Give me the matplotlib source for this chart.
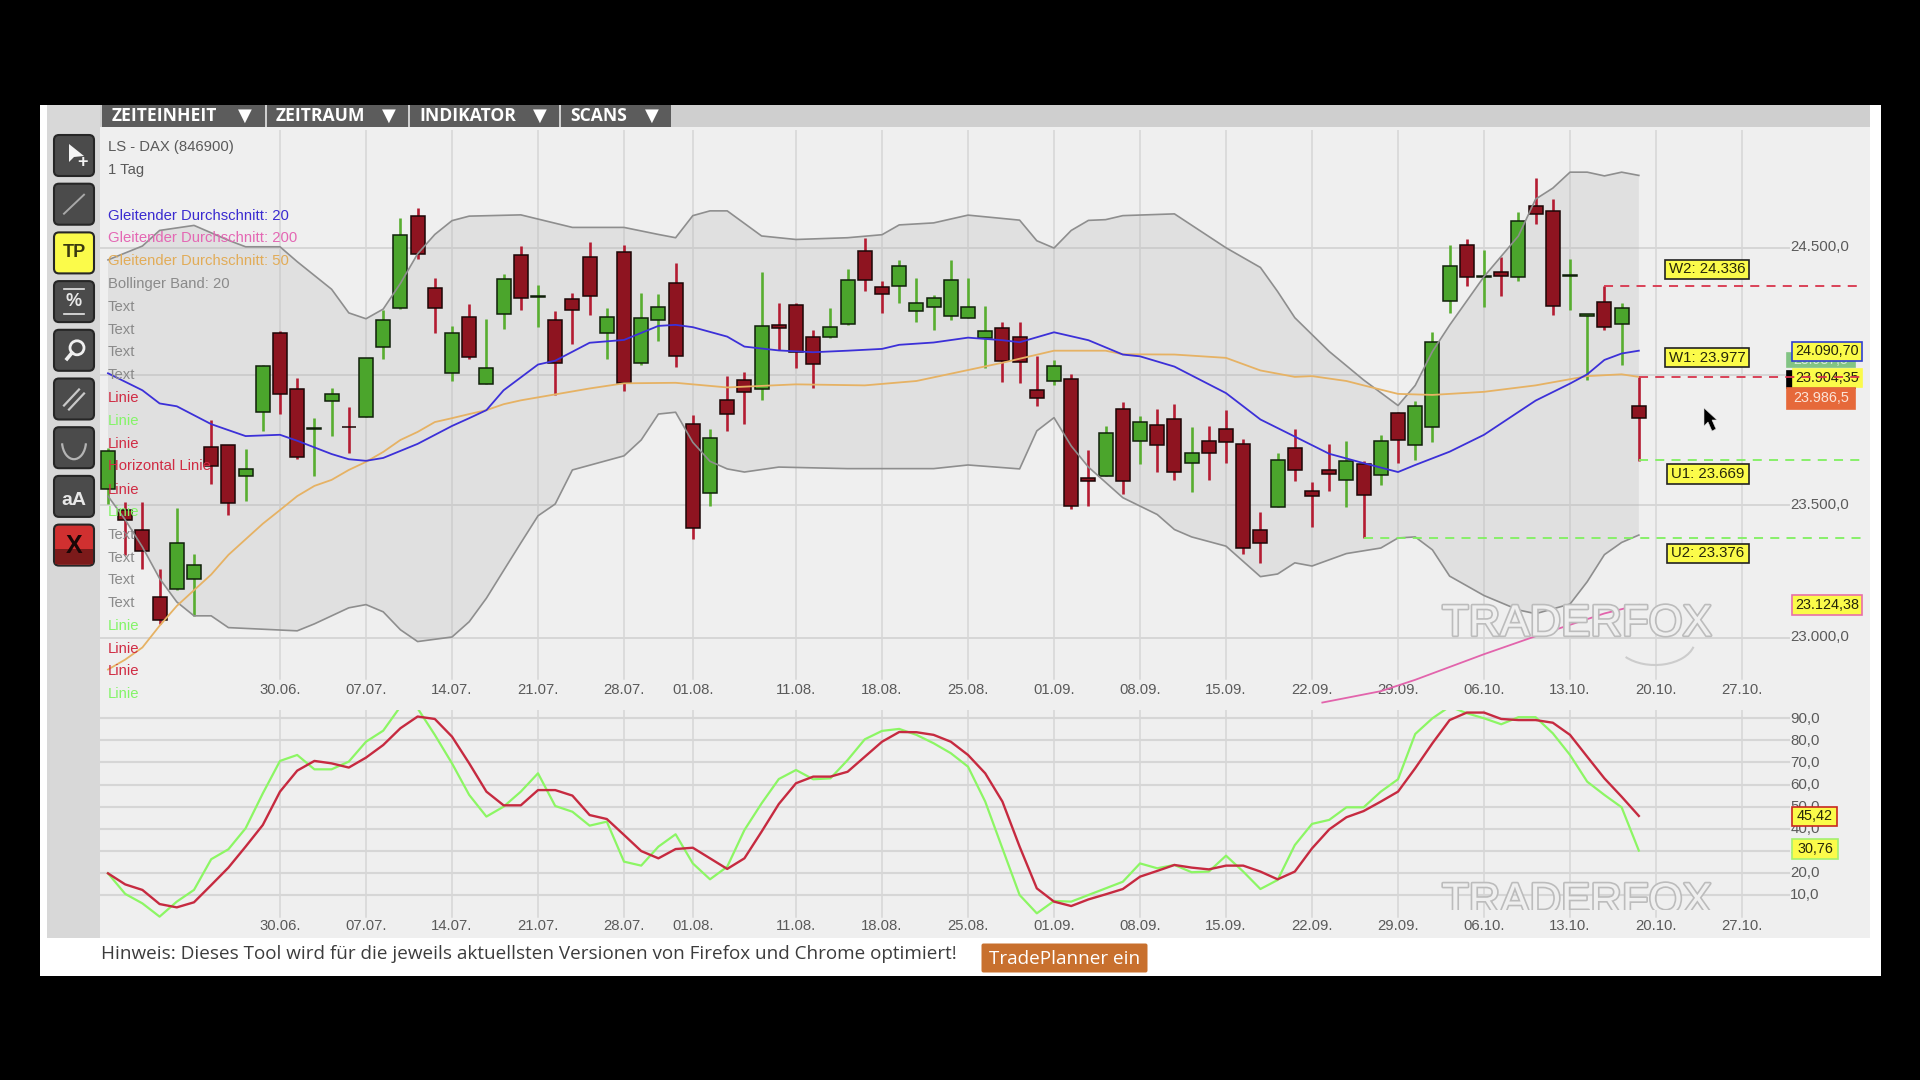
import numpy as np
import matplotlib
matplotlib.use("Agg")
import matplotlib.pyplot as plt
from matplotlib.patches import Rectangle, FancyBboxPatch, Polygon, Circle, Arc
from matplotlib.ticker import NullLocator
from matplotlib.transforms import ScaledTranslation
import matplotlib.patheffects as pe

plt.rcParams['font.family'] = ['Liberation Sans', 'DejaVu Sans']

# candles, day 0 is 30.06.
first_day = -10
opens = [23563, 23482, 23408, 23152, 23185, 23220, 23722, 23730, 23612, 23857,
         24166, 23946, 23793, 23899, 23801, 23840, 24112, 24262, 24627, 24340,
         24011, 24227, 23965, 24238, 24472, 24306, 24216, 24298, 24466, 24166,
         24485, 24047, 24216, 24363, 23813, 23545, 23906, 23982, 23946, 24198,
         24275, 24148, 24151, 24201, 24487, 24345, 24350, 24253, 24266, 24231,
         24225, 24147, 24185, 24148, 23943, 23978, 23984, 23605, 23611, 23871,
         23746, 23806, 23830, 23662, 23746, 23794, 23735, 23408, 23493, 23718,
         23554, 23636, 23598, 23656, 23617, 23854, 23730, 23800, 24290, 24512,
         24385, 24406, 24385, 24666, 24648, 24391, 24232, 24285, 24201, 23880]
highs = [23719, 23512, 23512, 23260, 23490, 23315, 23827, 23732, 23716, 24039,
         24172, 23988, 23834, 23952, 23876, 24068, 24256, 24621, 24658, 24380,
         24193, 24280, 24221, 24399, 24508, 24353, 24252, 24321, 24523, 24262,
         24512, 24321, 24317, 24441, 23848, 23792, 23997, 24012, 24404, 24281,
         24284, 24178, 24262, 24416, 24541, 24368, 24453, 24382, 24313, 24453,
         24382, 24273, 24210, 24210, 24074, 24060, 24007, 23712, 23804, 23895,
         23841, 23870, 23887, 23800, 23804, 23865, 23753, 23476, 23700, 23792,
         23588, 23734, 23746, 23668, 23770, 23858, 23899, 24171, 24512, 24537,
         24492, 24463, 24644, 24779, 24695, 24457, 24240, 24350, 24284, 23994]
lows = [23505, 23312, 23260, 23053, 23179, 23083, 23581, 23465, 23517, 23784,
        23850, 23676, 23612, 23765, 23699, 23837, 24065, 24259, 24458, 24166,
        23977, 24065, 23965, 24179, 24256, 24189, 23923, 24124, 24236, 24065,
        23939, 24042, 24135, 24034, 23373, 23497, 23785, 23811, 23905, 24097,
        24029, 23950, 24147, 24198, 24331, 24243, 24284, 24207, 24178, 24218,
        24225, 24029, 23975, 23971, 23880, 23963, 23486, 23497, 23610, 23544,
        23656, 23627, 23598, 23551, 23595, 23662, 23314, 23282, 23493, 23592,
        23416, 23556, 23493, 23376, 23576, 23661, 23675, 23741, 24243, 24350,
        24269, 24309, 24369, 24597, 24237, 24254, 23982, 24176, 24041, 23671]
closes = [23707, 23445, 23327, 23067, 23357, 23272, 23650, 23509, 23640, 24036,
          23929, 23686, 23796, 23929, 23799, 24067, 24216, 24550, 24477, 24262,
          24166, 24071, 24030, 24376, 24303, 24309, 24047, 24255, 24309, 24227,
          23969, 24222, 24269, 24076, 23413, 23759, 23851, 23934, 24191, 24184,
          24090, 24046, 24187, 24375, 24372, 24319, 24428, 24281, 24303, 24375,
          24268, 24173, 24057, 24053, 23911, 24037, 23497, 23592, 23776, 23592,
          23819, 23730, 23627, 23700, 23700, 23741, 23339, 23356, 23675, 23633,
          23534, 23621, 23671, 23539, 23746, 23751, 23883, 24131, 24428, 24387,
          24388, 24390, 24607, 24635, 24273, 24394, 24238, 24188, 24262, 23833]

# bollinger band and moving averages, read at their corners
upper_x = [-10, -8, -7, -5, -3, -2, 0, 1, 3, 4, 5, 6, 7, 8, 9, 10, 11, 14, 17, 20, 22, 23, 24, 25, 26, 28, 30,
           33, 35, 36, 38, 40, 43, 44, 45, 46, 47, 48, 49, 52, 55, 57, 58, 59, 61, 63, 65, 66, 67, 68, 70, 72,
           73, 74, 75, 76, 77, 78, 79]
upper_y = [24453, 24508, 24570, 24590, 24531, 24505, 24505, 24446, 24337, 24244, 24221, 24259, 24360, 24477,
           24554, 24609, 24627, 24632, 24582, 24582, 24554, 24541, 24629, 24648, 24648, 24548, 24534, 24541,
           24553, 24592, 24600, 24631, 24611, 24529, 24500, 24570, 24610, 24613, 24629, 24636, 24501, 24423,
           24328, 24225, 24093, 23982, 23883, 23961, 24093, 24196, 24387, 24548, 24695, 24739, 24803, 24803,
           24788, 24803, 24790]
lower_x = [-10, -9, -8, -7, -6, -5, -4, -3, 1, 2, 4, 5, 6, 7, 8, 10, 11, 12, 13, 14, 15, 16, 17, 20, 21, 22, 23,
           24, 25, 26, 27, 29, 33, 38, 40, 43, 44, 45, 46, 47, 49, 51, 52, 53, 55, 57, 58, 59, 60, 62, 64, 65,
           66, 67, 68, 70, 72, 73, 75, 76, 77, 78, 79]
lower_y = [23535, 23445, 23342, 23223, 23135, 23083, 23083, 23039, 23027, 23053, 23113, 23125, 23098, 23031,
           22987, 23004, 23061, 23149, 23253, 23357, 23460, 23505, 23635, 23689, 23750, 23850, 23857, 23741,
           23668, 23639, 23627, 23646, 23640, 23640, 23654, 23639, 23785, 23836, 23727, 23646, 23529, 23465,
           23408, 23380, 23345, 23230, 23240, 23282, 23270, 23317, 23338, 23376, 23380, 23331, 23232, 23159,
           23105, 23091, 23127, 23211, 23313, 23359, 23387]
sma20_x = [-10, -8, -7, -6, -4, -2, 0, 1, 3, 4, 5, 6, 8, 10, 11, 12, 13, 15, 16, 18, 20, 22, 23, 24, 26, 27, 29,
           31, 33, 35, 36, 38, 40, 42, 43, 45, 47, 49, 50, 52, 55, 57, 59, 61, 63, 65, 66, 68, 70, 72, 73, 75,
           76, 77, 78, 79]
sma20_y = [24008, 23942, 23891, 23880, 23811, 23765, 23770, 23747, 23696, 23676, 23670, 23681, 23735, 23804,
           23834, 23865, 23942, 24042, 24057, 24127, 24138, 24193, 24197, 24188, 24151, 24112, 24097, 24090,
           24096, 24103, 24119, 24128, 24147, 24137, 24129, 24168, 24137, 24081, 24074, 24034, 23931, 23829,
           23763, 23697, 23661, 23627, 23654, 23705, 23770, 23858, 23902, 23968, 24004, 24060, 24085, 24096]
sma50_x = [-10, -9, -8, -7, -6, -5, -4, -3, -2, -1, 0, 1, 2, 3, 4, 5, 6, 7, 8, 9, 10, 11, 12, 13, 14, 16, 18, 20,
           23, 26, 30, 34, 37, 42, 45, 48, 49, 52, 55, 57, 59, 60, 62, 63, 65, 67, 70, 73, 76, 78, 79]
sma50_y = [22883, 22920, 22965, 23046, 23120, 23179, 23238, 23312, 23371, 23430, 23482, 23535, 23574, 23597,
           23635, 23666, 23704, 23750, 23781, 23819, 23834, 23850, 23865, 23888, 23903, 23926, 23949, 23969,
           23971, 23953, 23965, 23961, 23978, 24049, 24096, 24096, 24082, 24081, 24068, 24019, 23994, 23997,
           23978, 23961, 23928, 23924, 23936, 23961, 23997, 24004, 23994]
sma200_x = [60.6, 64, 66, 70, 73, 77, 79]
sma200_y = [22761, 22803, 22845, 22940, 23007, 23092, 23124]

# stochastic panel, one value per day
stoch_red = [19.8, 14.8, 12.3, 5.9, 4.4, 6.7, 14.5, 22.4, 31.9, 41.7, 56.8, 66.3, 70.7, 69.6, 67.7, 72.2, 77.9,
             85.5, 90.8, 89.7, 81.7, 69.6, 56.8, 50.6, 50.6, 57.5, 57.5, 55.0, 46.2, 44.4, 37.2, 29.9, 26.6, 30.8,
             31.4, 26.6, 21.8, 26.6, 38.7, 51.2, 60.6, 63.6, 63.6, 65.8, 72.6, 79.4, 83.8, 83.7, 82.5, 79.4, 73.4,
             65.1, 52.3, 31.9, 13.0, 7.0, 5.0, 8.0, 10.3, 12.7, 18.3, 20.9, 23.6, 22.4, 21.6, 23.3, 23.3, 20.6,
             17.1, 20.6, 31.1, 39.7, 45.2, 48.0, 52.3, 56.8, 67.4, 78.7, 89.2, 92.6, 92.6, 89.7, 89.2, 89.2, 88.0,
             82.5, 72.6, 62.8, 54.5, 45.8]
stoch_green = [19.8, 10.5, 6.2, 0.2, 7.0, 12.3, 26.2, 30.7, 40.2, 56.0, 70.7, 73.4, 66.9, 66.9, 70.4, 79.4, 84.4,
               95.3, 94.5, 82.5, 69.6, 55.3, 45.5, 50.0, 56.8, 65.1, 50.3, 47.7, 41.4, 43.2, 25.1, 23.3, 31.9, 37.5,
               24.3, 17.1, 22.8, 39.4, 51.5, 62.5, 66.6, 62.4, 62.8, 71.1, 80.5, 84.3, 85.2, 82.5, 78.7, 74.2, 68.1,
               52.3, 31.1, 10.0, 1.7, 7.3, 7.0, 10.0, 13.0, 16.0, 24.3, 22.1, 23.6, 20.3, 20.6, 27.8, 20.6, 12.7,
               16.8, 32.6, 42.2, 44.0, 49.7, 49.7, 56.8, 62.4, 82.9, 90.0, 95.3, 92.3, 90.0, 87.3, 90.5, 90.5, 83.2,
               73.4, 61.3, 55.3, 49.7, 30.1]

date_pos = [0, 5, 10, 15, 20, 24, 30, 35, 40, 45, 50, 55, 60, 65, 70, 75, 80, 85]
date_labels = ['30.06.', '07.07.', '14.07.', '21.07.', '28.07.', '01.08.', '11.08.', '18.08.', '25.08.',
               '01.09.', '08.09.', '15.09.', '22.09.', '29.09.', '06.10.', '13.10.', '20.10.', '27.10.']
price_ticks = [23000, 23500, 24000, 24500]
price_labels = ['23.000,0', '23.500,0', '24.000,0', '24.500,0']
price_shown = [True, True, False, True]
stoch_ticks = [10, 20, 30, 40, 50, 60, 70, 80, 90]
stoch_labels = ['10,0', '20,0', '30,0', '40,0', '50,0', '60,0', '70,0', '80,0', '90,0']

levels = [24350, 23992, 23675, 23376]
level_start = [77, 79, 79, 63]
level_colors = ['#d8344c', '#d8344c', '#80f060', '#80f060']

legend_rows = [('LS - DAX (846900)', '#5a5a5a', 146.7), ('1 Tag', '#5a5a5a', 169.6),
               ('Gleitender Durchschnitt: 20', '#3a2bd0', 214.7), ('Gleitender Durchschnitt: 200', '#e468b4', 237.6),
               ('Gleitender Durchschnitt: 50', '#e2ac58', 260.5), ('Bollinger Band: 20', '#8a8a8a', 283.5),
               ('Text', '#8a8a8a', 306), ('Text', '#8a8a8a', 329), ('Text', '#8a8a8a', 351.5), ('Text', '#8a8a8a', 374.4),
               ('Linie', '#d02c44', 397), ('Linie', '#84f468', 420), ('Linie', '#d02c44', 443),
               ('Horizontal Linie', '#d02c44', 465.7), ('Linie', '#d02c44', 488.7), ('Linie', '#84f468', 511),
               ('Text', '#8a8a8a', 534), ('Text', '#8a8a8a', 556.7), ('Text', '#8a8a8a', 579), ('Text', '#8a8a8a', 602),
               ('Linie', '#84f468', 625), ('Linie', '#d02c44', 648), ('Linie', '#d02c44', 670.6), ('Linie', '#84f468', 693.5)]


def px_box(x0, y0, x1, y1):
    # figure fraction box from pixel corners, y counted from the top
    return [x0 / 1920, 1 - y1 / 1080, (x1 - x0) / 1920, (y1 - y0) / 1080]


def tag(ax, over, x0, x1, y0, y1, text, face, edge, color='#26260a', z=5, size=10.4):
    ax.add_patch(Rectangle((x0, y0), x1 - x0, y1 - y0, transform=over.transData, facecolor=face, edgecolor=edge,
                           lw=1.2, clip_on=False, zorder=z))
    ax.text((x0 + x1) / 2, (y0 + y1) / 2, text, transform=over.transData, ha='center', va='center', fontsize=size,
            color=color, clip_on=False, zorder=z + 0.05)


def draw_button(over, i, face='#4b4b4b'):
    y = 135 + i * 48.7
    over.add_patch(FancyBboxPatch((56, y + 2), 36, 37, boxstyle='round,pad=2,rounding_size=5', facecolor=face,
                                  edgecolor='#262626', lw=1.5, zorder=3))
    return y


def draw_toolbar(over):
    white = '#e8e8e8'
    y = draw_button(over, 0)
    over.add_patch(Polygon([(69, y + 9), (69, y + 27), (74, y + 22), (84, y + 21)], facecolor='#f4f4f4', zorder=4))
    over.text(82, y + 27, '+', color='#f4f4f4', fontsize=13, fontweight='bold', ha='center', va='center', zorder=4)
    y = draw_button(over, 1)
    over.plot([64, 84], [y + 30, y + 11], color='#a8a8a8', lw=1.4, zorder=4)
    y = draw_button(over, 2, '#fbfb4a')
    over.text(74, y + 20, 'TP', color='#3a3a10', fontsize=13, fontweight='bold', ha='center', va='center', zorder=4)
    y = draw_button(over, 3)
    over.plot([64, 84], [y + 8, y + 8], color=white, lw=1.2, zorder=4)
    over.plot([64, 84], [y + 33, y + 33], color=white, lw=1.2, zorder=4)
    over.text(74, y + 20, '%', color=white, fontsize=13, fontweight='bold', ha='center', va='center', zorder=4)
    y = draw_button(over, 4)
    over.add_patch(Circle((77, y + 18), 7, facecolor='none', edgecolor='#f0f0f0', lw=2, zorder=4))
    over.plot([67, 72], [y + 29, y + 23], color='#f0f0f0', lw=2.6, zorder=4)
    y = draw_button(over, 5)
    over.plot([64, 79], [y + 27, y + 11], color='#c8c8c8', lw=1.6, zorder=4)
    over.plot([69, 84], [y + 31, y + 15], color='#c8c8c8', lw=1.6, zorder=4)
    y = draw_button(over, 6)
    over.add_patch(Arc((74, y + 14), 24, 36, theta1=10, theta2=170, edgecolor='#b4b4b4', lw=1.6, zorder=4))
    y = draw_button(over, 7)
    over.text(74, y + 25, 'aA', color=white, fontsize=14, fontweight='bold', ha='center', va='center', zorder=4)
    y = draw_button(over, 8, '#d03030')
    over.add_patch(Rectangle((55, y + 24), 38, 15, facecolor='#7c1a1a', zorder=3.5))
    over.text(74, y + 21, 'X', color='#1a0606', fontsize=18, fontweight='bold', ha='center', va='center', zorder=4)


def draw_candles(ax):
    days = first_day + np.arange(len(opens))
    o, h, l, c = np.array(opens), np.array(highs), np.array(lows), np.array(closes)
    up = c >= o
    ax.vlines(days[up], l[up], h[up], color='#58ae30', lw=1.9, zorder=2)
    ax.vlines(days[~up], l[~up], h[~up], color='#b41c32', lw=1.9, zorder=2)
    top = np.maximum(o, c)
    bottom = np.minimum(o, c)
    ax.bar(days[up], (top - bottom)[up], bottom=bottom[up], width=0.82, color='#4ba52c', edgecolor='#10200a', lw=1.1, zorder=2.5)
    ax.bar(days[~up], (top - bottom)[~up], bottom=bottom[~up], width=0.82, color='#8e1420', edgecolor='#1c0606', lw=1.1, zorder=2.5)


def style_panel(ax, xlim, ylim, grid_from, date_pad, right_pad):
    ax.set_facecolor('#efefef')
    for spine in ax.spines.values():
        spine.set_visible(False)
    ax.set_xlim(*xlim)
    ax.set_ylim(*ylim)
    for x in date_pos:
        ax.axvline(x, ymin=grid_from, color='#d6d6d6', lw=1.1, zorder=0.5)
    ax.set_xticks(date_pos)
    ax.set_xticklabels(date_labels)
    ax.tick_params(axis='x', length=0, pad=date_pad, labelsize=10.7, labelcolor='#5a5a5a')
    ax.tick_params(axis='y', length=0, pad=right_pad, labelsize=10.8, labelcolor='#5a5a5a', labelleft=False, labelright=True)


def lift_labels(fig, ax, pts):
    # the labels sit a little above their grid line
    for lab in ax.get_yticklabels():
        lab.set_transform(lab.get_transform() + ScaledTranslation(0, pts / 72, fig.dpi_scale_trans))


def main():
    fig = plt.figure(figsize=(19.2, 10.8), dpi=100, facecolor='black')

    # page behind the chart, drawn in pixels
    back = fig.add_axes([0, 0, 1, 1], zorder=0)
    back.set_xlim(0, 1920)
    back.set_ylim(1080, 0)
    back.axis('off')
    back.add_patch(Rectangle((40, 105), 1841, 871, facecolor='white'))
    back.add_patch(Rectangle((47, 105), 53, 833, facecolor='#d8d8d8'))
    back.add_patch(Rectangle((100, 105), 1770, 25, facecolor='#cfcfcf'))
    back.add_patch(Rectangle((100, 127), 1770, 811, facecolor='#efefef'))

    xlim = (-10.465, 92.44)

    ax = fig.add_axes(px_box(100, 130, 1870, 705), zorder=1)
    ax.set_yscale('log')
    style_panel(ax, xlim, (22752, 24973), 0.045, -16, -57.5)
    ax.yaxis.set_minor_locator(NullLocator())
    ax.yaxis.set_major_locator(plt.FixedLocator(price_ticks))
    ax.set_yticklabels([t if s else '' for t, s in zip(price_labels, price_shown)])
    lift_labels(fig, ax, 1.6)
    for p in price_ticks:
        ax.axhline(p, xmax=0.954, color='#d6d6d6', lw=1.4, zorder=0.5)

    band_x = np.concatenate([upper_x, lower_x[::-1]])
    band_y = np.concatenate([upper_y, lower_y[::-1]])
    ax.fill(band_x, band_y, color='#b8b8b8', alpha=0.27, lw=0, zorder=1)
    ax.plot(upper_x, upper_y, color='#8e8e8e', lw=1.2, zorder=3)
    ax.plot(lower_x, lower_y, color='#8e8e8e', lw=1.2, zorder=3)
    draw_candles(ax)
    ax.plot(sma50_x, sma50_y, color='#e6b264', lw=1.3, zorder=3)
    ax.plot(sma20_x, sma20_y, color='#3c30d8', lw=1.3, zorder=3)
    ax.plot(sma200_x, sma200_y, color='#e264ac', lw=1.3, zorder=3)
    for level, start, col in zip(levels, level_start, level_colors):
        ax.plot([start, 91.9], [level, level], color=col, lw=1.3, ls=(0, (5, 4)), zorder=6)

    sto = fig.add_axes(px_box(100, 710, 1870, 938), zorder=1)
    style_panel(sto, xlim, (-9.47, 93.76), 0.092, -13.7, -57.5)
    sto.set_yticks(stoch_ticks)
    sto.set_yticklabels(stoch_labels)
    lift_labels(fig, sto, 0.8)
    for v in stoch_ticks:
        sto.axhline(v, xmax=0.954, color='#d6d6d6', lw=1.5, zorder=0.5)
    days = first_day + np.arange(len(stoch_red))
    sto.plot(days, stoch_green, color='#8cf664', lw=1.6, zorder=3)
    sto.plot(days, stoch_red, color='#c62a40', lw=1.7, zorder=3.2)

    # texts and tags above the axes
    over = fig.add_axes([0, 0, 1, 1], zorder=5)
    over.set_xlim(0, 1920)
    over.set_ylim(1080, 0)
    over.axis('off')

    tabs = [(102, 264.5, 'ZEITEINHEIT', 111.4, 245), (266.5, 408, 'ZEITRAUM', 275.5, 389),
            (410, 559, 'INDIKATOR', 419.6, 540), (561, 670.6, 'SCANS', 570, 652)]
    for x0, x1, name, tx, ax_x in tabs:
        over.add_patch(Rectangle((x0, 105), x1 - x0, 22, facecolor='#5c5c5c'))
        over.text(tx, 116, name, color='white', fontsize=12.6, fontweight='bold', family='Open Sans', va='center')
        over.text(ax_x, 116, '▼', color='white', fontsize=13, ha='center', va='center', family='DejaVu Sans')

    draw_toolbar(over)

    for text, color, y in legend_rows:
        over.text(108, y + 0.8, text, color=color, fontsize=10.75, va='center', ha='left')

    for x0, x1, y0, y1, text in [(1665, 1749, 260, 278.6, 'W2: 24.336'), (1665, 1749, 348, 367, 'W1: 23.977'),
                                 (1667, 1749, 464, 483.6, 'U1: 23.669'), (1667, 1749, 544, 562.6, 'U2: 23.376')]:
        tag(ax, over, x0, x1, y0, y1, text, '#fbfb4a', '#222222', size=10.8)

    tag(ax, over, 1787, 1855, 352.7, 367, '23.987,5', '#82c484', '#82c484', color='#d8ecd8', z=5, size=10.2)
    tag(ax, over, 1787, 1855, 370.7, 388, '', 'black', 'black', z=5.1)
    tag(ax, over, 1793, 1862, 369, 386.7, '23.904,35', '#fbfb4a', '#fbfb4a', z=5.2)
    tag(ax, over, 1792, 1862, 341.7, 360.7, '24.090,70', '#fbfb4a', '#3040d0', z=5.3)
    tag(ax, over, 1787, 1855, 388, 409, '23.986,5', '#e6693a', '#e6693a', color='#fbe4d8', z=5.4)
    tag(ax, over, 1792, 1862, 595.4, 614.6, '23.124,38', '#fbfb4a', '#e870a8', z=5.3)
    tag(sto, over, 1792, 1837, 806.7, 826, '45,42', '#fbfb4a', '#c82820', z=5)
    tag(sto, over, 1792, 1838, 839, 859, '30,76', '#fbfb4a', '#a4f070', z=5)

    # watermark, the lower one is cut off by the panel
    for y, cut in [(624, 660), (902, 910)]:
        mark = over.text(1577, y, 'TRADERFOX', fontsize=31.5, color='#efefef', ha='center', va='center',
                         path_effects=[pe.withStroke(linewidth=2.4, foreground='#bcbcbc')], zorder=1)
        mark.set_clip_on(True)
        mark.set_clip_path(Rectangle((1400, y - 40), 360, cut - y + 40, transform=over.transData))
    over.add_patch(Arc((1655, 640), 80, 50, theta1=10, theta2=150, edgecolor='#cccccc', lw=1.5, zorder=1))

    # mouse pointer
    over.add_patch(Polygon([(1704, 408), (1704, 426), (1708, 422), (1712, 431), (1716, 429), (1712, 420), (1717, 420)],
                           facecolor='black', edgecolor='#dddddd', lw=0.4, zorder=7))

    over.text(101, 954, 'Hinweis: Dieses Tool wird für die jeweils aktuellsten Versionen von Firefox und Chrome optimiert!',
              family='Open Sans', fontsize=13.55, color='#3c3c3c', va='center')
    over.add_patch(FancyBboxPatch((983, 945), 163, 26, boxstyle='round,pad=1.5,rounding_size=2', facecolor='#c8702e', edgecolor='none'))
    over.text(1064.5, 959, 'TradePlanner ein', family='Open Sans', fontsize=13.6, color='white', ha='center', va='center')

    fig.savefig('out.png', dpi=100, facecolor='black')


if __name__ == "__main__":
    main()
